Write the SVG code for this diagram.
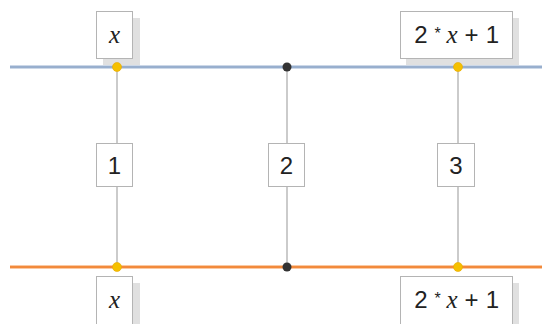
<svg xmlns="http://www.w3.org/2000/svg" width="542" height="324" viewBox="0 0 542 324">
<style>
.shadow{fill:#e0e0e0}
.box{fill:#ffffff;stroke:#b4b4b4;stroke-width:1}
.lbl{font-family:"Liberation Sans",Arial,sans-serif;font-size:24px;fill:#222;text-anchor:middle}
.var{font-family:"Liberation Serif","Times New Roman",serif;font-style:italic;font-size:25px}
.ast{font-size:16px}
.vline{stroke:#a8a8a8;stroke-width:1.2}
.ydot{fill:#f5c000;stroke:#e8a800;stroke-width:0.6}
</style>
<g id="connectors">
<line class="vline" x1="117" y1="67" x2="117" y2="267"/>
<line class="vline" x1="287" y1="67" x2="287" y2="267"/>
<line class="vline" x1="458" y1="67" x2="458" y2="267"/>
<line x1="10" y1="67" x2="542" y2="67" stroke="#ccd8e8" stroke-width="4"/>
<line x1="10" y1="67" x2="542" y2="67" stroke="#87a2c6" stroke-width="1.5"/>
<line x1="10" y1="267" x2="542" y2="267" stroke="#fbc9a2" stroke-width="4"/>
<line x1="10" y1="267" x2="542" y2="267" stroke="#f28a3c" stroke-width="1.8"/>
</g>
<g id="e1">
<rect class="box" x="96.5" y="143.5" width="36" height="43"/>
<text class="lbl" x="114.5" y="174">1</text>
</g>
<g id="e2">
<rect class="box" x="268.5" y="143.5" width="36" height="43"/>
<text class="lbl" x="286.5" y="174">2</text>
</g>
<g id="e3">
<rect class="box" x="437.5" y="143.5" width="37" height="43"/>
<text class="lbl" x="456" y="174">3</text>
</g>
<g id="top-left">
<rect class="shadow" x="103" y="18" width="37" height="47"/>
<rect class="box" x="96.5" y="11.5" width="36" height="47"/>
<text class="lbl var" x="114.5" y="43">x</text>
<circle class="ydot" cx="117" cy="67" r="4.5"/>
</g>
<g id="top-mid">
<circle cx="287" cy="67" r="4.5" fill="#333"/>
</g>
<g id="top-right">
<rect class="shadow" x="406" y="18" width="113" height="47"/>
<rect class="box" x="400.5" y="11.5" width="112" height="47"/>
<text class="lbl" y="43"><tspan x="421">2</tspan><tspan class="ast" x="437.5" dy="-4">*</tspan><tspan class="var" x="452" dy="4">x</tspan><tspan x="471.5">+</tspan><tspan x="492.5">1</tspan></text>
<circle class="ydot" cx="458" cy="67" r="4.5"/>
</g>
<g id="bottom-left">
<rect class="shadow" x="103" y="283" width="37" height="47"/>
<rect class="box" x="96.5" y="276.5" width="36" height="60"/>
<text class="lbl var" x="114.5" y="308">x</text>
<circle class="ydot" cx="117" cy="267" r="4.5"/>
</g>
<g id="bottom-mid">
<circle cx="287" cy="267" r="4.5" fill="#333"/>
</g>
<g id="bottom-right">
<rect class="shadow" x="406" y="283" width="113" height="47"/>
<rect class="box" x="400.5" y="276.5" width="112" height="60"/>
<text class="lbl" y="308"><tspan x="421">2</tspan><tspan class="ast" x="437.5" dy="-4">*</tspan><tspan class="var" x="452" dy="4">x</tspan><tspan x="471.5">+</tspan><tspan x="492.5">1</tspan></text>
<circle class="ydot" cx="458" cy="267" r="4.5"/>
</g>
</svg>
